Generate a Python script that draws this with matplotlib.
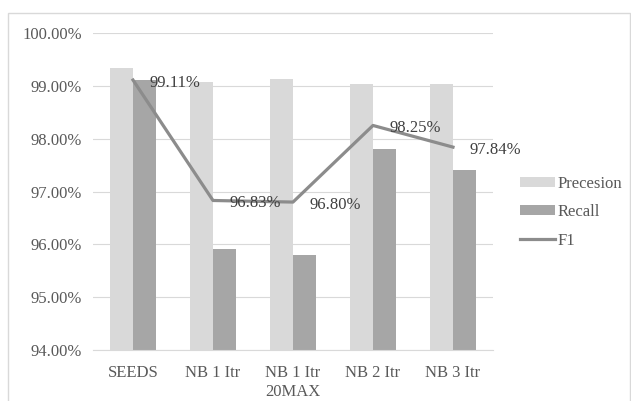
import numpy as np
import matplotlib.pyplot as plt
from matplotlib.patches import Rectangle
from matplotlib.ticker import FuncFormatter

categories = ['SEEDS', 'NB 1 Itr', 'NB 1 Itr\n20MAX', 'NB 2 Itr', 'NB 3 Itr']
precision = [99.34, 99.08, 99.13, 99.04, 99.04]
recall = [99.11, 95.92, 95.80, 97.81, 97.40]
f1 = [99.11, 96.83, 96.80, 98.25, 97.84]

plt.rcParams['font.family'] = ['Liberation Serif', 'DejaVu Serif']
text_color = '#595959'

fig = plt.figure(figsize=(6.31, 4.01), dpi=100)
ax = fig.add_axes([93 / 631, 1 - 350 / 401, 400 / 631, 317 / 401])

# outer chart border
fig.patches.append(Rectangle((8 / 631, -0.01), 622 / 631, 1 - 13 / 401 + 0.01,
                             transform=fig.transFigure, fill=False,
                             edgecolor='#d9d9d9', linewidth=1))

x = np.arange(len(categories))
w = 0.2875
b1 = ax.bar(x - w / 2, precision, w, color='#d9d9d9', label='Precesion', zorder=2)
b2 = ax.bar(x + w / 2, recall, w, color='#a6a6a6', label='Recall', zorder=2)
l1, = ax.plot(x, f1, color='#8c8c8c', linewidth=2.3, label='F1', zorder=3)

for xi, v in zip(x, f1):
    ax.annotate(f'{v:.2f}%', (xi, v), xytext=(16, -3), textcoords='offset pixels',
                ha='left', va='center', fontsize=12, color='#404040', zorder=4)

ax.set_xlim(-0.5, len(categories) - 0.5)
ax.set_ylim(94, 100)
ax.set_yticks(np.arange(94, 100.01, 1))
ax.yaxis.set_major_formatter(FuncFormatter(lambda v, p: f'{v:.2f}%'))
ax.set_xticks(x)
ax.set_xticklabels(categories)
ax.grid(axis='y', color='#d9d9d9', linewidth=0.8, zorder=0)
for s in ['top', 'right', 'left']:
    ax.spines[s].set_visible(False)
ax.spines['bottom'].set_color('#d9d9d9')
ax.tick_params(axis='y', length=0, labelsize=12, colors=text_color, pad=8)
ax.tick_params(axis='x', length=0, labelsize=12, colors=text_color, pad=11)

fig.legend([b1, b2, l1], ['Precesion', 'Recall', 'F1'], loc='center left',
           bbox_to_anchor=(520 / 631, 1 - 212 / 401), frameon=False,
           fontsize=12, labelcolor=text_color, handlelength=2.1,
           handleheight=0.55, handletextpad=0.15, labelspacing=0.75,
           borderpad=0, borderaxespad=0)

fig.savefig('out.png', dpi=100)
